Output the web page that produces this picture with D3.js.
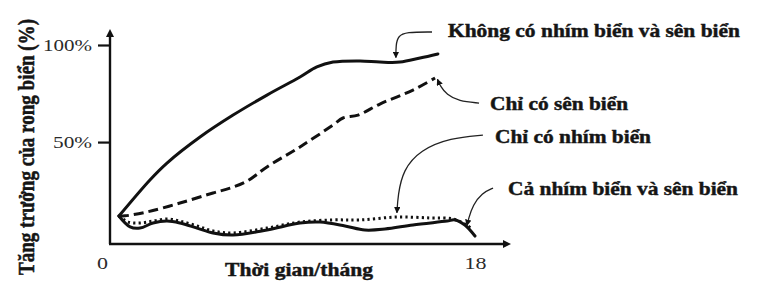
<!DOCTYPE html>
<html><head><meta charset="utf-8">
<script src="https://cdn.jsdelivr.net/npm/d3@7"></script>
<style>
html,body{margin:0;padding:0;background:#fff;}
svg{display:block;font-family:"Liberation Serif","Times New Roman",serif;}
</style></head>
<body>
<svg id="chart" width="758" height="285"></svg>
<script>
// ---- data (months, % growth) ----
const seriesNames = ["Không có nhím biển và sên biển","Chỉ có sên biển","Chỉ có nhím biển","Cả nhím biển và sên biển"];
const noneMonths = [0.44,1.97,2.81,4.44,6.07,7.74,9.37,10.2,11.0,12.33,13.31,14.3,15.29,16.17];
const noneValues = [11.9,30.5,39.2,52.6,63.9,74.2,83.5,88.7,91.2,91.8,91.2,91.2,93.3,95.4];
const snailMonths = [0.44,0.74,1.82,3.45,5.08,5.92,6.76,7.74,9.37,11.0,11.49,12.23,13.31,14.94,16.03];
const snailValues = [11.9,12.0,14.0,18.6,23.8,26.3,29.9,37.2,47.5,58.8,62.4,63.9,69.6,76.8,83.0];
const urchinMonths = [0.44,0.89,1.48,2.12,2.81,3.45,4.29,5.08,6.07,7.74,9.37,11.0,12.33,14.15,15.78,16.91,17.5,17.85];
const urchinValues = [11.9,8.8,8.3,9.3,10.4,9.3,6.8,4.2,3.2,5.7,8.8,9.9,9.9,11.4,10.9,10.4,7.8,5.2];
const bothMonths = [0.44,0.99,1.48,2.12,2.81,3.45,4.29,5.08,6.07,7.74,9.37,10.36,11.59,12.57,13.56,14.94,16.62,17.01,17.5,18.0];
const bothValues = [11.9,6.3,5.7,8.3,9.3,8.3,5.7,3.2,2.1,4.7,8.3,8.8,6.8,4.7,5.2,7.3,9.3,9.9,7.3,1.6];
const yTicks = [50,100];
const xTicks = [0,18];
const xTitle = "Thời gian/tháng";
const yTitle = "Tăng trưởng của rong biển (%)";

// ---- layout ----
const svg = d3.select("#chart");
const x = d3.scaleLinear().domain([0,18]).range([110,475]);
const y = d3.scaleLinear().domain([-2.5,100]).range([244,45]);

// annotation callouts (in data units) and label layout
const callouts = [
  {label:0, pts:[[15.88,106.7],[14.6,106.7],[14.2,104.5],[14.1,100],[14.1,93.5]], tx:448, ty:37, tw:292},
  {label:1, pts:[[18.2,70.1],[17.2,71.0],[16.6,74.5],[16.3,78.6],[16.15,82.3]], tx:490, ty:110, tw:138},
  {label:2, pts:[[18.39,53.6],[16.8,52.2],[15.3,46.0],[14.45,35.6],[14.2,22.7],[14.15,13.6]], tx:495, ty:143, tw:156},
  {label:3, pts:[[18.89,26.3],[18.34,23.8],[17.9,17.6],[17.68,10.5],[17.6,7.0]], tx:508, ty:195, tw:230}
];

const defs = svg.append("defs");
defs.append("marker").attr("id","ah").attr("viewBox","0 0 10 10").attr("refX",9).attr("refY",5)
  .attr("markerWidth",5).attr("markerHeight",5).attr("orient","auto-start-reverse")
  .append("path").attr("d","M0,0 L10,5 L0,10 z").attr("fill","#111");

const boldText = sel => sel.attr("font-weight","bold").attr("fill","#151515")
  .attr("stroke","#151515").attr("stroke-width",0.45).attr("lengthAdjust","spacingAndGlyphs");

// axes
const yAxis = d3.axisLeft(y).tickValues(yTicks).tickSize(12).tickPadding(6).tickFormat(d=>d+"%");
const gy = svg.append("g").attr("transform",`translate(${x(0)},0)`).call(yAxis);
gy.select(".domain").remove();
gy.selectAll(".tick line").attr("stroke","#111").attr("stroke-width",2.2);
gy.selectAll(".tick text").attr("font-family","Liberation Serif").attr("font-size",17.5).attr("fill","#2a2a2a")
  .attr("dy","0.33em").attr("lengthAdjust","spacingAndGlyphs")
  .attr("textLength",d=>d===100?49:39);

const xAxis = d3.axisBottom(x).tickValues(xTicks).tickSize(0).tickPadding(13).tickFormat(d=>d);
const gx = svg.append("g").attr("transform",`translate(0,${y(-2.5)})`).call(xAxis);
gx.select(".domain").remove();
gx.selectAll(".tick text").attr("font-family","Liberation Serif").attr("font-size",17.5).attr("fill","#2a2a2a")
  .attr("dx",d=>d===0?-8:0).attr("lengthAdjust","spacingAndGlyphs").attr("textLength",d=>d===0?11:22);

// axis lines with arrows
svg.append("line").attr("x1",x(0)).attr("y1",y(-2.5)).attr("x2",x(0)).attr("y2",y(100)-12)
  .attr("stroke","#111").attr("stroke-width",2.4);
svg.append("path").attr("d",`M${x(0)-4},${y(100)-8} L${x(0)+4},${y(100)-8} L${x(0)},${y(100)-16} Z`).attr("fill","#111");
svg.append("line").attr("x1",x(0)-1).attr("y1",y(-2.5)).attr("x2",x(18)+30).attr("y2",y(-2.5))
  .attr("stroke","#111").attr("stroke-width",2.4);
svg.append("path").attr("d",`M${x(18)+28},${y(-2.5)-4} L${x(18)+28},${y(-2.5)+4} L${x(18)+36},${y(-2.5)} Z`).attr("fill","#111");

// titles
svg.append("text").attr("x",225).attr("y",276).attr("font-size",18.5)
  .call(boldText).attr("textLength",148).text(xTitle);
svg.append("text").attr("transform","translate(34,275) rotate(-90) scale(1,1.22)").attr("x",0).attr("y",0)
  .attr("font-size",19).call(boldText).attr("textLength",256).text(yTitle);

// series
const line = d3.line().x(d=>x(d[0])).y(d=>y(d[1])).curve(d3.curveCatmullRom.alpha(0.5));
const zip = (a,b)=>a.map((m,i)=>[m,b[i]]);
const series = [
  {pts:zip(urchinMonths,urchinValues), dash:"2.2,3.2", w:3},
  {pts:zip(bothMonths,bothValues), dash:null, w:3},
  {pts:zip(snailMonths,snailValues), dash:"10,5", w:3},
  {pts:zip(noneMonths,noneValues), dash:null, w:3}
];
svg.append("g").selectAll("path").data(series).join("path")
  .attr("d",d=>line(d.pts)).attr("fill","none").attr("stroke","#111")
  .attr("stroke-width",d=>d.w).attr("stroke-dasharray",d=>d.dash)
  .attr("stroke-linecap",d=>d.dash?"butt":"round").attr("stroke-linejoin","round");

// callouts
const cline = d3.line().x(d=>x(d[0])).y(d=>y(d[1])).curve(d3.curveBasis);
svg.append("g").selectAll("path").data(callouts).join("path")
  .attr("d",d=>cline(d.pts)).attr("fill","none").attr("stroke","#222").attr("stroke-width",1.3)
  .attr("marker-end","url(#ah)");
svg.append("g").selectAll("text").data(callouts).join("text")
  .attr("x",d=>d.tx).attr("y",d=>d.ty).attr("font-size",18.5).call(boldText)
  .attr("textLength",d=>d.tw).text(d=>seriesNames[d.label]);
</script>
</body></html>
